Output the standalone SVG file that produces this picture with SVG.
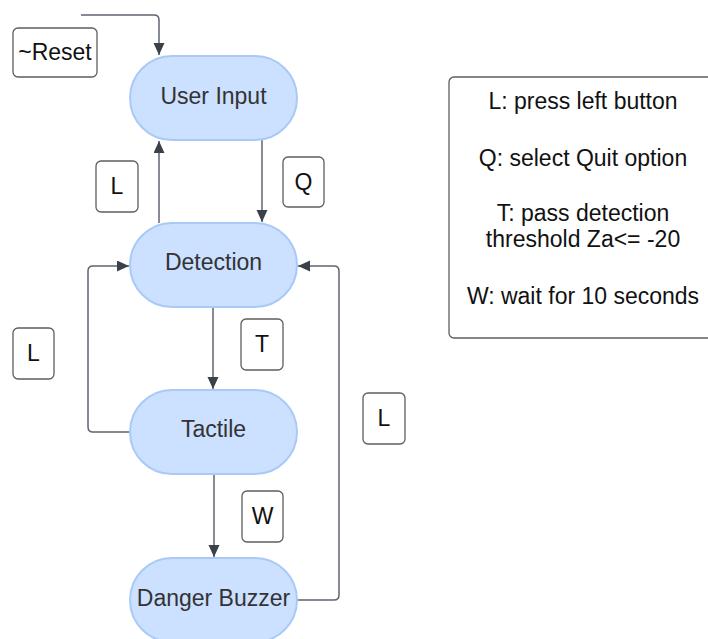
<svg xmlns="http://www.w3.org/2000/svg" width="708" height="639" viewBox="0 0 708 639">
<defs>
<style>
.node{fill:#cce0ff;stroke:#a9c9f7;stroke-width:2}
.nt{font-family:"Liberation Sans",Arial,sans-serif;font-size:23px;fill:#333333;text-anchor:middle}
.lbl{fill:#ffffff;stroke:#5e5e5e;stroke-width:1.3}
.lt{font-family:"Liberation Sans",Arial,sans-serif;font-size:23px;fill:#111111;text-anchor:middle}
.conn{fill:none;stroke:#5f6670;stroke-width:1.5}
</style>
<marker id="ah" markerUnits="userSpaceOnUse" markerWidth="14" markerHeight="12" refX="12" refY="5.5" orient="auto">
<path d="M0,0 L12,5.5 L0,11 z" fill="#3a4149"/>
</marker>
</defs>
<rect width="708" height="639" fill="#ffffff"/>
<g id="connectors">
<path class="conn" d="M81,15 H154 Q159,15 159,20 V55" marker-end="url(#ah)"/>
<path class="conn" d="M262,140 V222" marker-end="url(#ah)"/>
<path class="conn" d="M159,223 V141" marker-end="url(#ah)"/>
<path class="conn" d="M213,307 V389" marker-end="url(#ah)"/>
<path class="conn" d="M130,432 H93 Q88,432 88,427 V271 Q88,266 93,266 H129" marker-end="url(#ah)"/>
<path class="conn" d="M214,474 V557" marker-end="url(#ah)"/>
<path class="conn" d="M297,600 H334 Q339,600 339,595 V271 Q339,266 334,266 H298" marker-end="url(#ah)"/>
</g>
<g id="user-input"><rect class="node" x="130" y="56" width="167" height="84" rx="42"/><text class="nt" x="213.5" y="103.5">User Input</text></g>
<g id="detection"><rect class="node" x="130" y="223" width="167" height="84" rx="42"/><text class="nt" x="213.5" y="270">Detection</text></g>
<g id="tactile"><rect class="node" x="130" y="390" width="167" height="84" rx="42"/><text class="nt" x="213.5" y="437">Tactile</text></g>
<g id="danger-buzzer"><rect class="node" x="130" y="558" width="167" height="84" rx="42"/><text class="nt" x="213.5" y="606">Danger Buzzer</text></g>
<g id="label-reset"><rect class="lbl" x="13" y="28" width="84" height="49" rx="5"/><text class="lt" x="55" y="60">~Reset</text></g>
<g id="label-l-top"><rect class="lbl" x="96" y="161" width="42" height="51" rx="5"/><text class="lt" x="117" y="194">L</text></g>
<g id="label-q"><rect class="lbl" x="283" y="157" width="41" height="50" rx="5"/><text class="lt" x="303.5" y="190">Q</text></g>
<g id="label-l-left"><rect class="lbl" x="13" y="328" width="41" height="51" rx="5"/><text class="lt" x="33.5" y="361">L</text></g>
<g id="label-t"><rect class="lbl" x="241" y="319" width="42" height="51" rx="5"/><text class="lt" x="262" y="352">T</text></g>
<g id="label-l-right"><rect class="lbl" x="363" y="393" width="42" height="51" rx="5"/><text class="lt" x="384" y="426">L</text></g>
<g id="label-w"><rect class="lbl" x="242" y="491" width="41" height="51" rx="5"/><text class="lt" x="262.5" y="524">W</text></g>
<g id="legend">
<rect class="lbl" x="449" y="77" width="268" height="261" rx="5"/>
<text class="lt" x="583" y="109">L: press left button</text>
<text class="lt" x="583" y="166">Q: select Quit option</text>
<text class="lt" x="583" y="221">T: pass detection</text>
<text class="lt" x="583" y="247">threshold Za&lt;= -20</text>
<text class="lt" x="583" y="304">W: wait for 10 seconds</text>
</g>
</svg>
